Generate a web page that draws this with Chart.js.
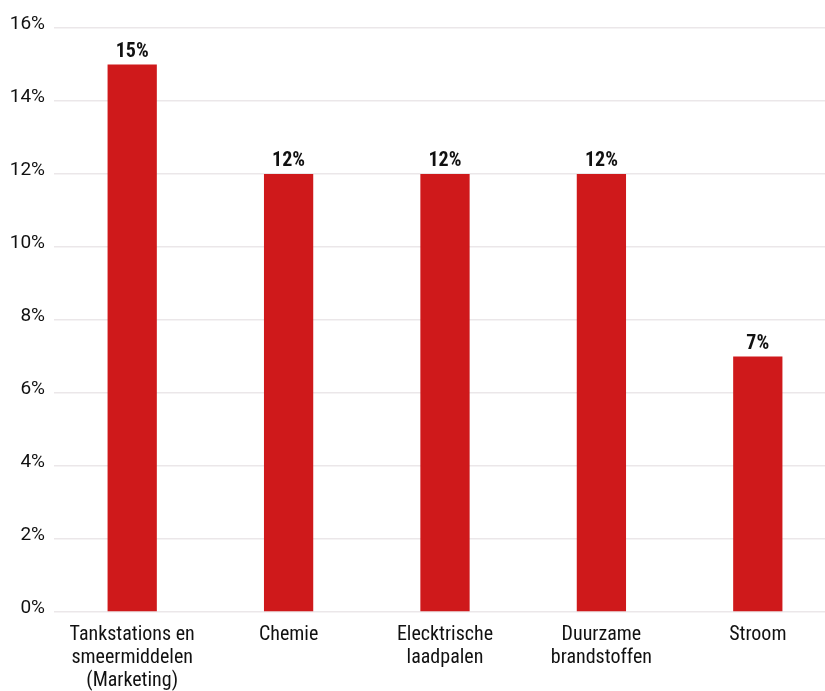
<!DOCTYPE html>
<html lang="nl">
<head>
    <meta charset="UTF-8">
    <title>Aandeel per sector</title>
    <script src="https://cdn.jsdelivr.net/npm/chart.js"></script>
    <style>
        html, body { margin: 0; padding: 0; background: #fff; overflow: hidden; }
        .chart-container { width: 836px; height: 691px; position: relative; }
    </style>
</head>
<body>
    <div class="chart-container">
        <canvas id="barChart"></canvas>
    </div>

    <script>
        const categories = [
            ['Tankstations en', 'smeermiddelen', '(Marketing)'],
            'Chemie',
            ['Elecktrische', 'laadpalen'],
            ['Duurzame', 'brandstoffen'],
            'Stroom'
        ];
        const values = [15, 12, 12, 12, 7];
        const yTicks = [0, 2, 4, 6, 8, 10, 12, 14, 16];

        const condensed = "'Roboto Condensed', 'Liberation Sans Narrow', 'Roboto', sans-serif";

        // waarde boven elke balk
        const valueLabels = {
            id: 'valueLabels',
            afterDatasetsDraw(chart) {
                const ctx = chart.ctx;
                const meta = chart.getDatasetMeta(0);
                ctx.save();
                ctx.font = "bold 20px " + condensed;
                ctx.fillStyle = '#111';
                ctx.textAlign = 'center';
                ctx.textBaseline = 'alphabetic';
                meta.data.forEach((bar, i) => {
                    ctx.fillText(values[i] + '%', bar.x, bar.y - 8);
                });
                ctx.restore();
            }
        };

        const ctx = document.getElementById('barChart').getContext('2d');
        new Chart(ctx, {
            type: 'bar',
            data: {
                labels: categories,
                datasets: [{
                    data: values,
                    backgroundColor: '#cf191b',
                    barPercentage: 0.315,
                    categoryPercentage: 1
                }]
            },
            options: {
                responsive: true,
                maintainAspectRatio: false,
                animation: false,
                layout: { padding: { top: 28, right: 0, bottom: 0, left: 0 } },
                plugins: {
                    legend: { display: false },
                    tooltip: { enabled: false }
                },
                scales: {
                    x: {
                        afterFit(axis) { axis.height = 79; },
                        grid: { display: false },
                        border: { display: false },
                        ticks: {
                            color: '#111',
                            maxRotation: 0,
                            padding: 3,
                            font: { family: condensed, size: 20, lineHeight: 1.15 }
                        }
                    },
                    y: {
                        min: 0,
                        max: 16,
                        afterBuildTicks(axis) {
                            axis.ticks = yTicks.map(v => ({ value: v }));
                        },
                        afterFit(axis) { axis.width = 54; },
                        grid: { color: '#ebe7e9', lineWidth: 1.5, drawTicks: false },
                        border: { display: false },
                        ticks: {
                            color: '#111',
                            padding: 9,
                            labelOffset: -4,
                            font: { family: "'Roboto', sans-serif", size: 19 },
                            callback: v => v + '%'
                        }
                    }
                }
            },
            plugins: [valueLabels]
        });
    </script>
</body>
</html>
